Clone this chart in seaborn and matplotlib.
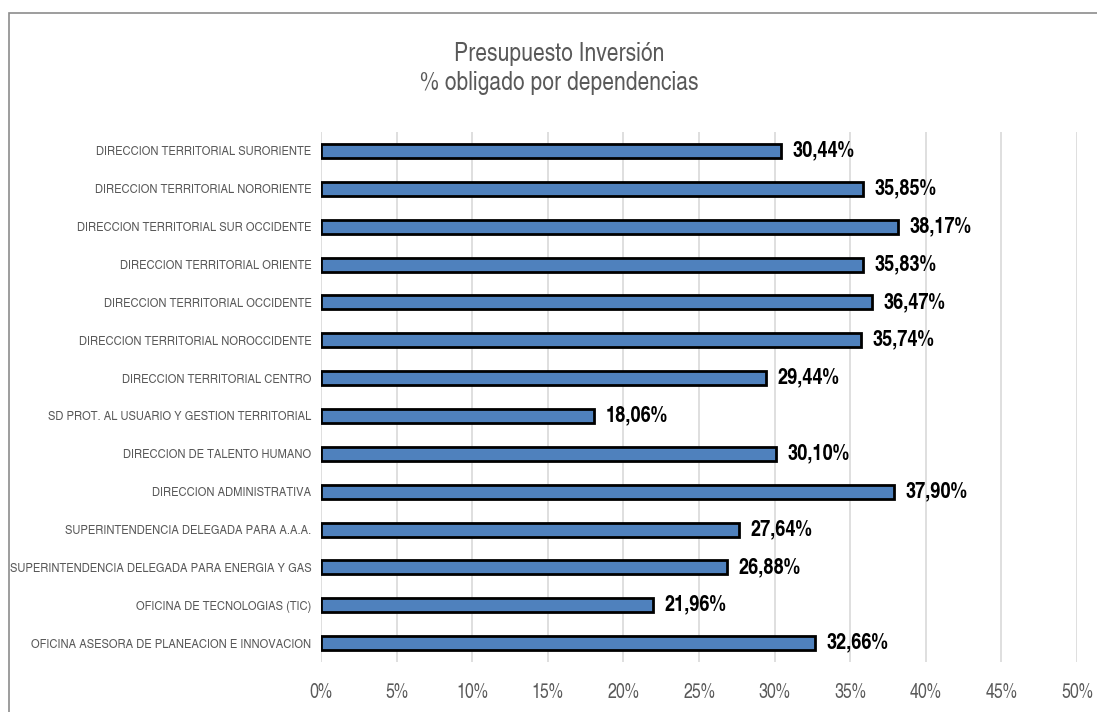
import matplotlib
matplotlib.use("Agg")
import matplotlib.pyplot as plt
import seaborn as sns
import pandas as pd
from matplotlib.patches import Rectangle
from matplotlib.ticker import MultipleLocator, FuncFormatter

# %% Data
dependencias = [
    "DIRECCION TERRITORIAL SURORIENTE",
    "DIRECCION TERRITORIAL NORORIENTE",
    "DIRECCION TERRITORIAL SUR OCCIDENTE",
    "DIRECCION TERRITORIAL ORIENTE",
    "DIRECCION TERRITORIAL OCCIDENTE",
    "DIRECCION TERRITORIAL NOROCCIDENTE",
    "DIRECCION TERRITORIAL CENTRO",
    "SD PROT. AL USUARIO Y GESTION TERRITORIAL",
    "DIRECCION DE TALENTO HUMANO",
    "DIRECCION ADMINISTRATIVA",
    "SUPERINTENDENCIA DELEGADA PARA A.A.A.",
    "SUPERINTENDENCIA DELEGADA PARA ENERGIA Y GAS",
    "OFICINA DE TECNOLOGIAS (TIC)",
    "OFICINA ASESORA DE PLANEACION E INNOVACION",
]
obligado = [30.44, 35.85, 38.17, 35.83, 36.47, 35.74, 29.44,
            18.06, 30.10, 37.90, 27.64, 26.88, 21.96, 32.66]

df = pd.DataFrame({"Dependencia": dependencias, "Obligado": obligado})

# %% Plot
sns.set_style("white")
plt.rcParams["font.family"] = ["TeX Gyre Heros Cn", "Archivo Narrow", "DejaVu Sans"]

fig = plt.figure(figsize=(10.97, 7.12), dpi=100)
ax = fig.add_axes([0.2926, 0.0702, 0.6892, 0.7444])

sns.barplot(data=df, y="Dependencia", x="Obligado", orient="h", ax=ax,
            color="#4F81BD", edgecolor="black", linewidth=2, width=0.37,
            saturation=1)

ax.set_xlim(0, 50)
ax.set_ylim(13.5, -0.5)
ax.xaxis.set_major_locator(MultipleLocator(5))
ax.xaxis.set_major_formatter(FuncFormatter(lambda v, p: f"{v:.0f}%"))
ax.grid(axis="x", color="#D9D9D9", linewidth=1.2)
ax.set_axisbelow(True)
for s in ax.spines.values():
    s.set_visible(False)
ax.set_xlabel("")
ax.set_ylabel("")
ax.tick_params(axis="x", length=0, pad=15, labelsize=14, labelcolor="#595959")
ax.tick_params(axis="y", length=0, pad=7, labelsize=9.8, labelcolor="#595959")

for i, v in enumerate(obligado):
    ax.text(v + 0.75, i, f"{v:.2f}%".replace(".", ","), va="center", ha="left",
            fontsize=16, fontweight="bold", color="black")

fig.text(0.51, 0.904, "Presupuesto Inversión\n% obligado por dependencias",
         ha="center", va="center", fontsize=18.5, color="#595959",
         linespacing=1.25)

# chart frame (cropped at right and bottom)
fig.add_artist(Rectangle((9 / 1097, -0.2), 1.2, 0.2 + 1 - 13 / 712,
                         transform=fig.transFigure, fill=False,
                         edgecolor="#8C8C8C", linewidth=1.2, clip_on=False))

fig.savefig("out.png", dpi=100)
